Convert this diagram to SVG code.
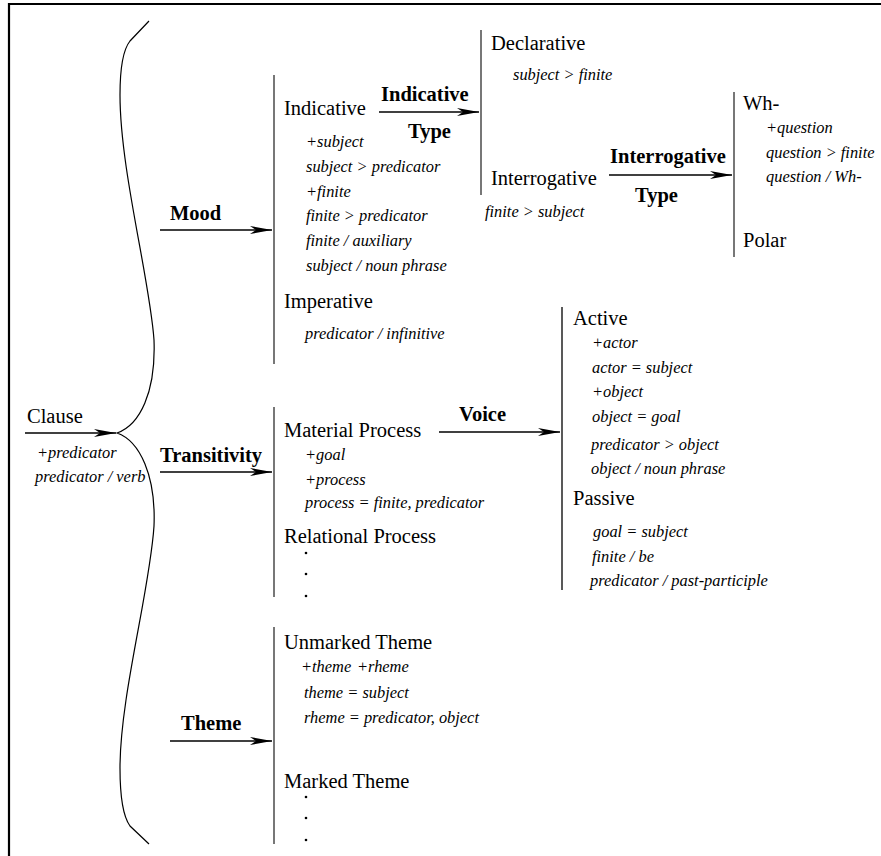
<svg xmlns="http://www.w3.org/2000/svg" width="881" height="856" viewBox="0 0 881 856">
<style>
.t{font-family:"Liberation Serif","Times New Roman",serif;font-size:20.5px;fill:#000}
.b{font-family:"Liberation Serif","Times New Roman",serif;font-size:20.5px;font-weight:bold;fill:#000}
.i{font-family:"Liberation Serif","Times New Roman",serif;font-size:16.4px;font-style:italic;fill:#000}
.bar{stroke:#555;stroke-width:1.6;fill:none}
.arr{stroke:#000;stroke-width:1.4;fill:none;marker-end:url(#ah)}
.dot{fill:#000}
</style>
<defs>
<marker id="ah" markerUnits="userSpaceOnUse" markerWidth="23" markerHeight="10" refX="22" refY="5" orient="auto">
<path d="M0,1 L22,5 L0,9 L6,5 z" fill="#000"/>
</marker>
</defs>
<rect width="881" height="856" fill="#fff"/>
<g id="frame" stroke="#000" stroke-width="2.2" fill="none">
<line x1="8" y1="4" x2="881" y2="4"/>
<line x1="9" y1="3" x2="9" y2="856"/>
</g>
<g id="brace">
<path d="M149,21 L130,41 C122,51 120,70 120,95 C120,170 150,280 154,340 C156,392 140,425 117,433 C140,441 156,476 154,526 C150,590 120,696 120,768 C120,795 122,815 130,826 L149,844" fill="none" stroke="#000" stroke-width="1.2"/>
</g>
<g id="connectors">
<line class="arr" x1="25" y1="433" x2="116" y2="433"/>
<line class="arr" x1="160" y1="230" x2="272" y2="230"/>
<line class="arr" x1="160" y1="472" x2="272" y2="472"/>
<line class="arr" x1="170" y1="741" x2="272" y2="741"/>
<line class="arr" x1="379" y1="112" x2="479" y2="112"/>
<line class="arr" x1="609" y1="175" x2="732" y2="175"/>
<line class="arr" x1="439" y1="432" x2="560" y2="432"/>
</g>
<g id="clause">
<text class="t" x="27" y="423">Clause</text>
<text class="i" x="37" y="458">+predicator</text>
<text class="i" x="35" y="482">predicator / verb</text>
</g>
<g id="labels">
<text class="b" x="170" y="220">Mood</text>
<text class="b" x="160" y="462">Transitivity</text>
<text class="b" x="181" y="730">Theme</text>
<text class="b" x="381" y="101">Indicative</text>
<text class="b" x="408" y="138">Type</text>
<text class="b" x="610" y="163">Interrogative</text>
<text class="b" x="635" y="202">Type</text>
<text class="b" x="459" y="421">Voice</text>
</g>
<g id="mood">
<line class="bar" x1="274" y1="75" x2="274" y2="364"/>
<text class="t" x="284" y="115">Indicative</text>
<text class="i" x="306" y="147">+subject</text>
<text class="i" x="306" y="172">subject &gt; predicator</text>
<text class="i" x="306" y="197">+finite</text>
<text class="i" x="306" y="221">finite &gt; predicator</text>
<text class="i" x="306" y="246">finite / auxiliary</text>
<text class="i" x="306" y="271">subject / noun phrase</text>
<text class="t" x="284" y="308">Imperative</text>
<text class="i" x="305" y="339">predicator / infinitive</text>
</g>
<g id="indicative-type">
<line class="bar" x1="481" y1="30" x2="481" y2="195"/>
<text class="t" x="491" y="50">Declarative</text>
<text class="i" x="513" y="80">subject &gt; finite</text>
<text class="t" x="491" y="185">Interrogative</text>
<text class="i" x="485" y="217">finite &gt; subject</text>
</g>
<g id="interrogative-type">
<line class="bar" x1="734" y1="92" x2="734" y2="257"/>
<text class="t" x="743" y="110">Wh-</text>
<text class="i" x="766" y="133">+question</text>
<text class="i" x="766" y="158">question &gt; finite</text>
<text class="i" x="766" y="182">question / Wh-</text>
<text class="t" x="743" y="247">Polar</text>
</g>
<g id="transitivity">
<line class="bar" x1="274" y1="407" x2="274" y2="597"/>
<text class="t" x="284" y="437">Material Process</text>
<text class="i" x="305" y="460">+goal</text>
<text class="i" x="305" y="485">+process</text>
<text class="i" x="305" y="508">process = finite, predicator</text>
<text class="t" x="284" y="543">Relational Process</text>
<circle class="dot" cx="306" cy="553" r="1.3"/>
<circle class="dot" cx="306" cy="574" r="1.3"/>
<circle class="dot" cx="306" cy="596" r="1.3"/>
</g>
<g id="voice">
<line x1="562" y1="307" x2="562" y2="590" stroke="#222" stroke-width="1.5"/>
<text class="t" x="573" y="325">Active</text>
<text class="i" x="592" y="348">+actor</text>
<text class="i" x="592" y="373">actor = subject</text>
<text class="i" x="592" y="397">+object</text>
<text class="i" x="592" y="422">object = goal</text>
<text class="i" x="591" y="450">predicator &gt; object</text>
<text class="i" x="591" y="474">object / noun phrase</text>
<text class="t" x="573" y="505">Passive</text>
<text class="i" x="593" y="537">goal = subject</text>
<text class="i" x="592" y="562">finite / be</text>
<text class="i" x="590" y="586">predicator / past-participle</text>
</g>
<g id="theme">
<line class="bar" x1="274" y1="627" x2="274" y2="844"/>
<text class="t" x="284" y="649">Unmarked Theme</text>
<text class="i" x="301" y="672">+theme<tspan x="357">+rheme</tspan></text>
<text class="i" x="304" y="698">theme = subject</text>
<text class="i" x="304" y="723">rheme = predicator, object</text>
<text class="t" x="284" y="788">Marked Theme</text>
<circle class="dot" cx="306" cy="797" r="1.3"/>
<circle class="dot" cx="306" cy="818" r="1.3"/>
<circle class="dot" cx="306" cy="840" r="1.3"/>
</g>
</svg>
